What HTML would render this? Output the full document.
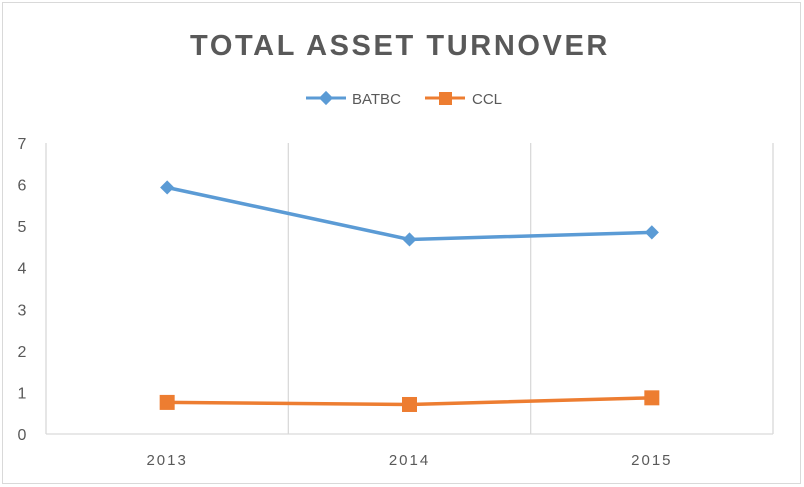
<!DOCTYPE html>
<html><head><meta charset="utf-8"><style>
html,body{margin:0;padding:0;background:#fff;}
svg{display:block;font-family:"Liberation Sans",sans-serif;}
</style></head><body>
<svg id="chart" width="804" height="487">
<rect x="2.5" y="2.5" width="798" height="481" fill="#fff" stroke="#d9d9d9"/>
<text x="400" y="55" text-anchor="middle" font-size="29" font-weight="bold" fill="#595959" letter-spacing="2.6">TOTAL ASSET TURNOVER</text>
<g>
<g>
<line x1="306" y1="98" x2="346" y2="98" stroke="#5b9bd5" stroke-width="3"/>
<rect x="321" y="93" width="10" height="10" fill="#5b9bd5" transform="rotate(45 326 98)"/>
<text x="352" y="104" font-size="15" fill="#595959">BATBC</text>
</g>
<g>
<line x1="425" y1="98" x2="465" y2="98" stroke="#ed7d31" stroke-width="3"/>
<rect x="439" y="92" width="13" height="13" fill="#ed7d31"/>
<text x="472" y="104" font-size="15" fill="#595959">CCL</text>
</g>
</g>
<g id="axes"></g>
<g id="series"></g>
</svg>
<script>
const categories=["2013","2014","2015"];
const batbc=[5.93,4.68,4.85];
const ccl=[0.76,0.71,0.87];
const yTicks=[0,1,2,3,4,5,6,7];
const NS="http://www.w3.org/2000/svg";
const L=46,R=773,T=143,B=434,yMax=7;
const cw=(R-L)/categories.length;
function xs(i){return L+cw*(i+0.5);}
function ys(v){return B-(v/yMax)*(B-T);}
function mk(tag,attrs,parent){const e=document.createElementNS(NS,tag);for(const k in attrs)e.setAttribute(k,attrs[k]);parent.appendChild(e);return e;}
const ax=document.getElementById('axes');
const se=document.getElementById('series');
yTicks.forEach(v=>{
 const t=mk('text',{x:22,y:ys(v)+6,'text-anchor':'middle','font-size':'16',fill:'#595959'},ax);
 t.textContent=v;
 
 
});
for(let i=0;i<=categories.length;i++){
 const g=mk('line',{x1:L+cw*i,x2:L+cw*i,y1:T,y2:B,stroke:'#d9d9d9','stroke-width':1.3},ax);
 
 
}
const base=mk('line',{x1:L,x2:R,y1:B,y2:B,stroke:'#d9d9d9','stroke-width':1.3},ax);


categories.forEach((c,i)=>{
 const t=mk('text',{x:xs(i),y:465,'text-anchor':'middle','font-size':'15',fill:'#595959','letter-spacing':'2'},ax);
 t.textContent=c;
 
 
});
function line(vals,color,name){
 const p=mk('polyline',{points:vals.map((v,i)=>xs(i)+','+ys(v)).join(' '),fill:'none',stroke:color,'stroke-width':3.5},se);
 
 
}
line(batbc,'#5b9bd5','batbc');
line(ccl,'#ed7d31','ccl');
batbc.forEach((v,i)=>{
 const m=mk('rect',{x:xs(i)-5,y:ys(v)-5,width:10,height:10,fill:'#5b9bd5',transform:`rotate(45 ${xs(i)} ${ys(v)})`},se);
 
 
});
ccl.forEach((v,i)=>{
 const m=mk('rect',{x:xs(i)-7.5,y:ys(v)-7.5,width:15,height:15,fill:'#ed7d31'},se);
 
 
});
</script>
</body></html>
